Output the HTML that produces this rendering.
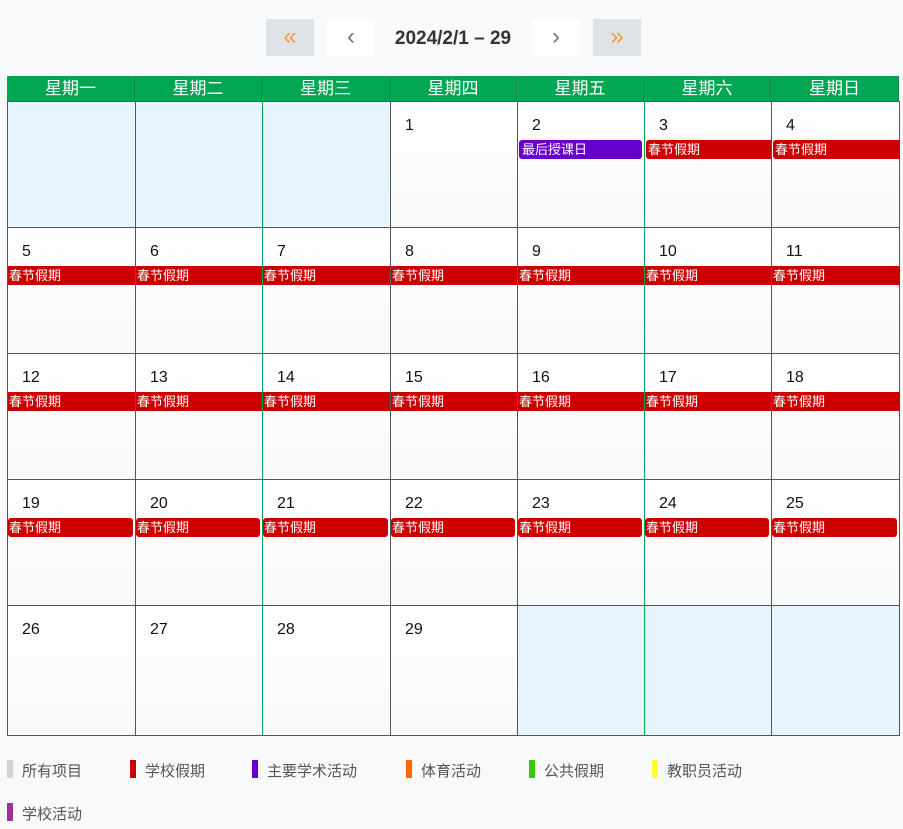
<!DOCTYPE html>
<html><head><meta charset="utf-8"><style>
body{margin:0;width:903px;height:829px;background:#f8f9fa;font-family:"Liberation Sans","Noto Sans CJK SC",sans-serif;position:relative;overflow:hidden}
.a{position:absolute}
.btn{position:absolute;top:19px;height:37px;width:48px;background:#dee3e6;color:#f39a3c;font-size:24px;text-align:center;line-height:35px}
.btn2{position:absolute;top:19px;height:37px;width:48px;background:#fff;color:#777;font-size:24px;text-align:center;line-height:35px}
.hd{position:absolute;top:76px;height:25px;background:#00a651;color:#fff;font-size:17px;text-align:center;line-height:25px}
.c{position:absolute;box-sizing:border-box;border:1px solid #555;background:linear-gradient(#fff,#f8f9fa)}
.e{background:#e6f4ff}
.n{position:absolute;font-size:16px;color:#111}
.ev{position:absolute;height:19px;color:#fff;font-size:13px;line-height:19px;background:#cc0000;white-space:nowrap;overflow:hidden}
.lg{position:absolute;font-size:15px;color:#555}
.sw{position:absolute;width:6px;height:18px}
</style></head><body>
<div class="btn" style="left:266px">«</div>
<div class="btn2" style="left:327px">‹</div>
<div class="a" style="left:380px;top:28px;width:146px;text-align:center;font-size:19px;font-weight:bold;color:#333">2024/2/1 – 29</div>
<div class="btn2" style="left:532px">›</div>
<div class="btn" style="left:593px">»</div>
<div id="g"></div>
<script>
var xs=[7,135,262,390,517,644,771,899],ys=[101,227,353,479,605,735];
var names=["星期一","星期二","星期三","星期四","星期五","星期六","星期日"];
var h="";
for(var i=0;i<7;i++){h+='<div class="hd" style="left:'+xs[i]+'px;width:'+(xs[i+1]-xs[i])+'px;border-right:1px solid #1a8a4a;box-sizing:border-box">'+names[i]+'</div>';}
for(var r=0;r<5;r++)for(var i=0;i<7;i++){
 var d=r*7+i-2;var empty=d<1||d>29;
 var gl=(i==2||i==5)?'border-left-color:#00a651;':'';
 h+='<div class="c'+(empty?' e':'')+'" style="left:'+xs[i]+'px;top:'+ys[r]+'px;width:'+(xs[i+1]-xs[i]+1)+'px;height:'+(ys[r+1]-ys[r]+1)+'px;'+gl+'"></div>';
 if(!empty){h+='<div class="n" style="left:'+(xs[i]+15)+'px;top:'+(ys[r]+16)+'px">'+d+'</div>';
  var t=ys[r]+39;
  if(d==2)h+='<div class="ev" style="left:519px;top:'+t+'px;width:123px;background:#6600cc;border-radius:3px;padding-left:3px;box-sizing:border-box">最后授课日</div>';
  else if(d>=3&&d<=18){var l=xs[i]+(d==3||d==4?2:1);h+='<div class="ev" style="left:'+l+'px;top:'+t+'px;width:'+(xs[i+1]-l+1)+'px;padding-left:'+(d==3||d==4?2:1)+'px;box-sizing:border-box;'+(d==3||d==4?'border-radius:3px 0 0 3px':'')+'">春节假期</div>';}
  else if(d>=19&&d<=25){h+='<div class="ev" style="left:'+(xs[i]+1)+'px;top:'+t+'px;width:'+(xs[i+1]-xs[i]-3)+'px;border-radius:3px;padding-left:1px;box-sizing:border-box">春节假期</div>';}
 }
}
var lg=[["所有项目","#d3d3d3",7,770],["学校假期","#cc0000",130,770],["主要学术活动","#6600cc",252,770],["体育活动","#ff6600",406,770],["公共假期","#33cc00",529,770],["教职员活动","#ffff33",652,770],["学校活动","#993399",7,813]];
lg.forEach(function(a){h+='<div class="sw" style="left:'+a[2]+'px;top:'+(a[3]-10)+'px;background:'+a[1]+'"></div><div class="lg" style="left:'+(a[2]+15)+'px;top:'+(a[3]-10)+'px">'+a[0]+'</div>';});
document.getElementById("g").innerHTML=h;
</script>
</body></html>
